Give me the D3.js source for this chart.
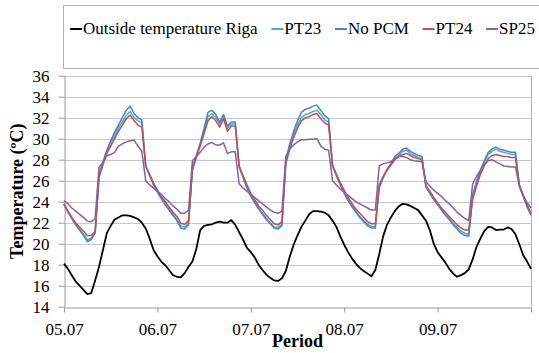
<!DOCTYPE html>
<html>
<head>
<meta charset="utf-8">
<title>Temperature Riga</title>
<style>
  body { margin: 0; background: #fff; }
  svg { display: block; }
  svg text { font-family: "Liberation Serif", "Times New Roman", serif !important; fill: #000; }
</style>
</head>
<body>
<svg width="539" height="353"></svg>
<script src="https://d3js.org/d3.v7.min.js"></script>
<script>

// x axis categories (one label per day, 24 hourly values per day)
const dayLabels = ["05.07", "06.07", "07.07", "08.07", "09.07"]
const hoursPerDay = 24
const yTicks = [14, 16, 18, 20, 22, 24, 26, 28, 30, 32, 34, 36]

// hourly values, 05.07 00:00 .. 10.07 00:00
const outsideRiga = [
  18.1, 17.6, 17.0, 16.4, 16.0, 15.6, 15.2, 15.3, 16.5, 17.8, 19.4, 21.0, 21.7, 22.3, 22.5, 22.7, 22.7, 22.65, 22.5, 22.35, 22.0, 21.45, 20.5, 19.4,
  18.8, 18.3, 17.95, 17.5, 17.0, 16.85, 16.8, 17.2, 17.8, 18.3, 19.5, 21.3, 21.7, 21.8, 21.85, 22.0, 22.1, 22.0, 22.0, 22.25, 21.8, 21.1, 20.4, 19.6,
  19.2, 18.7, 18.0, 17.5, 17.05, 16.75, 16.5, 16.45, 16.7, 17.4, 18.75, 19.9, 20.8, 21.6, 22.2, 22.8, 23.1, 23.1, 23.05, 22.95, 22.7, 22.2, 21.6, 20.7,
  19.9, 19.2, 18.6, 18.1, 17.7, 17.4, 17.15, 16.9, 17.5, 19.0, 20.7, 21.8, 22.5, 23.1, 23.55, 23.8, 23.75, 23.6, 23.4, 23.2, 22.7, 22.2, 21.3, 20.0,
  19.2, 18.7, 18.2, 17.6, 17.15, 16.85, 17.0, 17.2, 17.55, 18.5, 19.7, 20.5, 21.2, 21.6, 21.55, 21.3, 21.35, 21.35, 21.55, 21.4, 20.9, 19.95, 18.9, 18.3,
  17.6
]
const pt23 = [
  23.75, 23.1, 22.5, 21.9, 21.4, 20.9, 20.35, 20.55, 21.1, 26.5, 27.7, 28.7, 29.6, 30.3, 31.0, 31.6, 32.2, 32.6, 32.0, 31.7, 31.5, 27.4, 26.5, 25.7,
  25.0, 24.4, 23.8, 23.3, 22.8, 22.3, 21.7, 21.6, 22.0, 27.2, 28.3, 29.4, 30.7, 32.1, 32.4, 32.0, 31.4, 32.0, 31.0, 31.4, 31.4, 27.4, 26.4, 25.4,
  24.6, 24.0, 23.4, 22.9, 22.4, 22.0, 21.6, 21.55, 21.85, 27.9, 29.3, 30.4, 31.3, 32.0, 32.3, 32.4, 32.6, 32.7, 32.3, 31.8, 31.6, 27.4, 26.5, 25.6,
  24.9, 24.2, 23.6, 23.1, 22.6, 22.2, 21.85, 21.65, 21.65, 25.5, 26.3, 27.0, 27.5, 28.1, 28.4, 28.8, 28.9, 28.6, 28.4, 28.2, 28.1, 25.5, 24.9, 24.3,
  23.8, 23.3, 22.8, 22.4, 21.95, 21.55, 21.2, 21.0, 20.9, 24.5, 25.8, 26.9, 27.8, 28.5, 28.8, 29.0, 28.8, 28.7, 28.6, 28.5, 28.5, 25.6, 24.6, 23.6,
  22.8
]
const noPCM = [
  23.7, 23.0, 22.4, 21.8, 21.3, 20.8, 20.2, 20.4, 21.0, 26.6, 27.8, 28.9, 29.8, 30.6, 31.3, 32.0, 32.7, 33.1, 32.4, 32.0, 31.8, 27.4, 26.5, 25.6,
  24.9, 24.3, 23.7, 23.2, 22.7, 22.2, 21.5, 21.4, 21.8, 27.3, 28.4, 29.6, 31.0, 32.5, 32.7, 32.3, 31.6, 32.3, 31.2, 31.6, 31.6, 27.3, 26.3, 25.3,
  24.5, 23.9, 23.3, 22.8, 22.3, 21.9, 21.5, 21.4, 21.7, 28.0, 29.5, 30.7, 31.7, 32.5, 32.8, 32.9, 33.1, 33.2, 32.7, 32.2, 31.9, 27.4, 26.5, 25.6,
  24.8, 24.1, 23.5, 23.0, 22.5, 22.1, 21.7, 21.5, 21.5, 25.6, 26.4, 27.1, 27.6, 28.3, 28.6, 29.0, 29.1, 28.8, 28.6, 28.4, 28.3, 25.4, 24.8, 24.2,
  23.7, 23.2, 22.7, 22.3, 21.8, 21.4, 21.0, 20.8, 20.7, 24.6, 25.9, 27.0, 27.9, 28.7, 29.0, 29.2, 29.0, 28.9, 28.8, 28.7, 28.7, 25.5, 24.5, 23.5,
  22.7
]
const pt24 = [
  23.8, 23.1, 22.5, 22.0, 21.6, 21.2, 20.75, 20.8, 21.15, 26.3, 27.5, 28.6, 29.3, 30.0, 30.7, 31.3, 31.9, 32.25, 31.7, 31.3, 31.1, 27.4, 26.6, 25.8,
  25.1, 24.5, 24.0, 23.5, 23.0, 22.6, 21.95, 21.85, 22.2, 27.0, 28.2, 29.3, 30.5, 31.7, 32.1, 31.7, 31.1, 31.9, 30.7, 31.2, 31.2, 27.4, 26.5, 25.6,
  24.8, 24.2, 23.6, 23.2, 22.7, 22.3, 21.9, 21.8, 22.1, 27.6, 29.0, 30.1, 31.0, 31.7, 32.0, 32.1, 32.3, 32.4, 31.9, 31.5, 31.3, 27.5, 26.6, 25.8,
  25.1, 24.4, 23.8, 23.3, 22.9, 22.5, 22.1, 21.9, 21.9, 25.3, 26.3, 27.0, 27.5, 28.0, 28.3, 28.5, 28.6, 28.4, 28.2, 28.1, 28.0, 25.5, 25.0, 24.4,
  23.9, 23.4, 23.0, 22.6, 22.2, 21.8, 21.5, 21.3, 21.3, 24.2, 25.5, 26.6, 27.4, 28.1, 28.4, 28.5, 28.4, 28.3, 28.3, 28.2, 28.2, 25.6, 24.6, 23.7,
  22.9
]
const sp25 = [
  24.1, 23.8, 23.4, 23.1, 22.8, 22.5, 22.15, 22.1, 22.4, 27.3, 27.7, 28.4, 28.5, 28.7, 29.3, 29.5, 29.7, 29.8, 29.85, 29.3, 28.8, 26.0, 25.6, 25.3,
  25.0, 24.7, 24.3, 24.0, 23.6, 23.3, 22.9, 22.9, 23.2, 27.9, 28.3, 28.7, 29.2, 29.5, 29.65, 29.4, 29.4, 29.6, 28.6, 28.75, 28.75, 25.7, 25.3, 25.0,
  24.7, 24.4, 24.1, 23.8, 23.5, 23.2, 23.0, 22.9, 23.1, 28.3, 29.0, 29.4, 29.7, 29.9, 29.9, 29.95, 29.95, 30.0, 29.3, 29.0, 28.9, 26.0, 25.6, 25.2,
  24.9, 24.6, 24.3, 24.0, 23.8, 23.6, 23.4, 23.2, 23.2, 27.4, 27.6, 27.7, 27.8, 28.1, 28.3, 28.3, 28.2, 28.0, 27.9, 27.85, 27.8, 25.9, 25.5, 25.1,
  24.8, 24.5, 24.1, 23.8, 23.4, 23.0, 22.7, 22.4, 22.2, 25.7, 26.4, 27.0, 27.6, 27.9, 28.0, 27.8, 27.6, 27.4, 27.35, 27.3, 27.3, 25.5, 24.6, 23.9,
  23.4
]

const seriesNames = ["Outside temperature Riga", "PT23", "No PCM", "PT24", "SP25"]
const seriesColors = ["#000000", "#4bacc6", "#4f81bd", "#c0504d", "#8064a2"]
const seriesData = [outsideRiga, pt23, noPCM, pt24, sp25]

const serif = '"Liberation Serif", "Times New Roman", serif'
const width = 539, height = 353
const margin = {top: 75.7, right: 8, bottom: 46.3, left: 64}
const svg = d3.select("svg")

const x = d3.scaleLinear()
  .domain([0, dayLabels.length * hoursPerDay])
  .range([margin.left, width - margin.right])
const y = d3.scaleLinear()
  .domain([14, 36])
  .range([height - margin.bottom, margin.top])

// gridlines
svg.append("g")
  .selectAll("line")
  .data(yTicks.slice(1))
  .join("line")
    .attr("x1", margin.left)
    .attr("x2", width - margin.right)
    .attr("y1", d => Math.round(y(d)) + 0.5)
    .attr("y2", d => Math.round(y(d)) + 0.5)
    .attr("stroke", "#c6c6c6")
    .attr("stroke-width", 1)

// plot border (right side)
svg.append("line")
  .attr("x1", Math.round(x(120)) + 0.5).attr("x2", Math.round(x(120)) + 0.5)
  .attr("y1", y(36)).attr("y2", y(14))
  .attr("stroke", "#b0b0b0")

// y axis
const yAxis = svg.append("g")
  .attr("transform", `translate(${Math.round(margin.left) + 0.5},0)`)
  .call(d3.axisLeft(y).tickValues(yTicks).tickSize(6).tickPadding(9).tickSizeOuter(0))
yAxis.attr("font-family", serif).attr("font-size", 17)
yAxis.selectAll("line, path").attr("stroke", "#9a9a9a")

// x axis, one tick per day
const dayTicks = d3.range(0, dayLabels.length + 1).map(i => i * hoursPerDay)
const xAxis = svg.append("g")
  .attr("transform", `translate(0,${Math.round(y(14)) + 0.5})`)
  .call(d3.axisBottom(x).tickValues(dayTicks).tickSize(5).tickPadding(10).tickSizeOuter(0)
    .tickFormat((d, i) => dayLabels[i] || ""))
xAxis.attr("font-family", serif).attr("font-size", 17)
xAxis.selectAll("line, path").attr("stroke", "#9a9a9a")

// lines
const line = d3.line()
  .x((d, i) => x(i))
  .y(d => y(d))

svg.append("g")
  .attr("fill", "none")
  .selectAll("path")
  .data(seriesData)
  .join("path")
    .attr("stroke", (d, i) => seriesColors[i])
    .attr("stroke-width", (d, i) => i == 0 ? 1.8 : 1.5)
    .attr("stroke-linejoin", "round")
    .attr("d", line)

// axis titles
svg.append("text")
  .attr("x", (margin.left + width - margin.right) / 2)
  .attr("y", 347)
  .attr("text-anchor", "middle")
  .attr("font-weight", "bold")
  .attr("font-size", 18)
  .text("Period")

svg.append("text")
  .attr("transform", `translate(23,${(y(14) + y(36)) / 2}) rotate(-90)`)
  .attr("text-anchor", "middle")
  .attr("font-weight", "bold")
  .attr("font-size", 18)
  .text("Temperature (ºC)")

// legend
svg.append("rect")
  .attr("x", 63.5).attr("y", 5.5)
  .attr("width", 490).attr("height", 63)
  .attr("fill", "#fff")
  .attr("stroke", "#b0b0b0")

const legend = svg.append("g")
const items = legend.selectAll("g")
  .data(seriesNames)
  .join("g")
items.append("line")
  .attr("x1", 0).attr("x2", 12)
  .attr("y1", 29).attr("y2", 29)
  .attr("stroke", (d, i) => seriesColors[i])
  .attr("stroke-width", 2)
items.append("text")
  .attr("x", 13)
  .attr("y", 34)
  .attr("font-size", 17)
  .text(d => d)

// spread items between the left and right end of the legend text
const widths = []
items.each(function() { widths.push(13 + this.querySelector("text").getComputedTextLength()) })
const gap = (535 - 70 - d3.sum(widths)) / (widths.length - 1)
let lx = 70
items.attr("transform", (d, i) => {
  const t = `translate(${lx},0)`
  lx += widths[i] + gap
  return t
})

</script>
</body>
</html>
